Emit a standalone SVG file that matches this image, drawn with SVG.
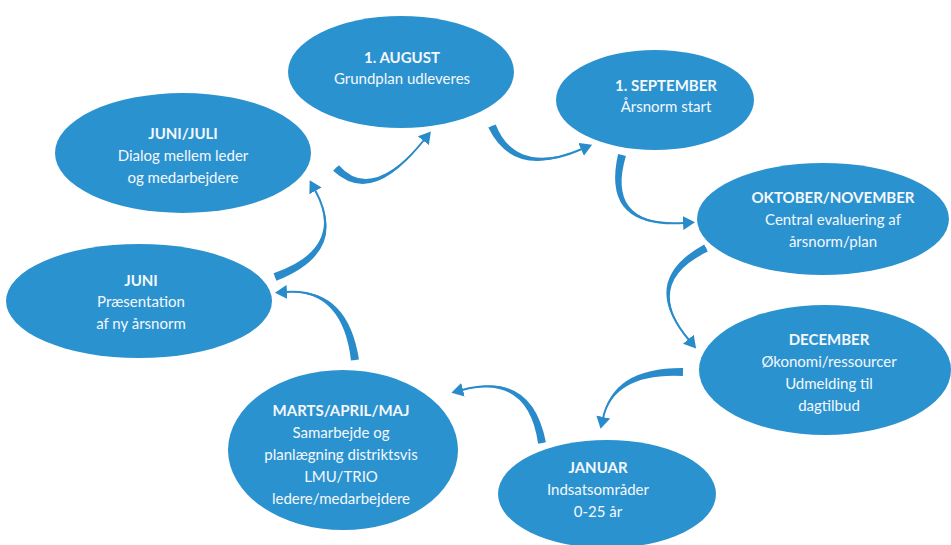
<svg xmlns="http://www.w3.org/2000/svg" width="951" height="545" viewBox="0 0 951 545">
<style>
.node ellipse{fill:#2b92d0}
.node text{font-family:Lato,"Open Sans","Liberation Sans",sans-serif;font-size:15px;fill:#f4f8fc;text-anchor:middle}
.node .t{font-weight:bold}
.arr .body{fill:#2a8bca;stroke:none}
.arr .line{fill:none;stroke:#2a8bca;stroke-width:2;marker-end:url(#ah)}
</style>
<defs>
<marker id="ah" markerUnits="userSpaceOnUse" viewBox="0 0 12 14" markerWidth="12" markerHeight="14" refX="1" refY="7" orient="auto">
<path d="M0,0 L12,7 L0,14 z" fill="#2a8bca"/>
</marker>
</defs>
<rect width="951" height="545" fill="#ffffff"/>
<g id="connectors" class="arr">
<path class="body" d="M333.1 170.8 Q372.9 207.9 424 140 Q371.1 202.1 338.9 165.2 Z"/>
<path class="line" d="M336 168 Q372 205 424 140"/>
<path class="body" d="M488.3 127.6 Q514.3 180.9 582 149 Q515.7 175.1 495.7 124.4 Z"/>
<path class="line" d="M492 126 Q515 178 582 149"/>
<path class="body" d="M618.1 154 Q600.8 230 684 223 Q605.2 226 625.9 156 Z"/>
<path class="line" d="M622 155 Q603 228 684 223"/>
<path class="body" d="M704.2 244.4 Q637.1 281.5 689 340 Q642.9 282.5 707.8 251.6 Z"/>
<path class="line" d="M706 248 Q640 282 689 340"/>
<path class="body" d="M683.1 368 Q612.5 367.4 603 418 Q615.5 372.6 682.9 376 Z"/>
<path class="line" d="M683 372 Q614 370 603 418"/>
<path class="body" d="M545.9 442.3 Q531.7 369.5 462 390 Q528.3 374.5 538.1 443.7 Z"/>
<path class="line" d="M542 443 Q530 372 462 390"/>
<path class="body" d="M359 359.4 Q347.1 285.9 286 292 Q342.9 290.1 351 360.6 Z"/>
<path class="line" d="M355 360 Q345 288 286 292"/>
<path class="body" d="M276.4 280.8 Q350.7 251.3 315 190 Q345.3 248.7 273.6 273.2 Z"/>
<path class="line" d="M275 277 Q348 250 315 190"/>
</g>
<g id="n-august" class="node">
<ellipse cx="401" cy="72" rx="113" ry="56"/>
<text class="t" x="402" y="63">1. AUGUST</text>
<text x="402" y="84">Grundplan udleveres</text>
</g>
<g id="n-september" class="node">
<ellipse cx="655" cy="100" rx="99" ry="50"/>
<text class="t" x="666" y="91">1. SEPTEMBER</text>
<text x="666" y="112">Årsnorm start</text>
</g>
<g id="n-oktober" class="node">
<ellipse cx="823" cy="219" rx="126" ry="56"/>
<text class="t" x="833" y="203">OKTOBER/NOVEMBER</text>
<text x="833" y="225">Central evaluering af</text>
<text x="833" y="247">årsnorm/plan</text>
</g>
<g id="n-december" class="node">
<ellipse cx="825" cy="370" rx="126" ry="65"/>
<text class="t" x="829" y="345">DECEMBER</text>
<text x="829" y="367">Økonomi/ressourcer</text>
<text x="829" y="389">Udmelding til</text>
<text x="829" y="411">dagtilbud</text>
</g>
<g id="n-januar" class="node">
<ellipse cx="607" cy="494" rx="109" ry="54"/>
<text class="t" x="598" y="473">JANUAR</text>
<text x="598" y="495">Indsatsområder</text>
<text x="598" y="517">0-25 år</text>
</g>
<g id="n-marts" class="node">
<ellipse cx="343" cy="450" rx="115" ry="80"/>
<text class="t" x="341" y="416">MARTS/APRIL/MAJ</text>
<text x="341" y="438">Samarbejde og</text>
<text x="341" y="460">planlægning distriktsvis</text>
<text x="341" y="482">LMU/TRIO</text>
<text x="341" y="504">ledere/medarbejdere</text>
</g>
<g id="n-juni" class="node">
<ellipse cx="139" cy="301" rx="133" ry="57"/>
<text class="t" x="141" y="286">JUNI</text>
<text x="141" y="307">Præsentation</text>
<text x="141" y="329">af ny årsnorm</text>
</g>
<g id="n-junijuli" class="node">
<ellipse cx="183" cy="153" rx="128" ry="60"/>
<text class="t" x="183" y="139">JUNI/JULI</text>
<text x="183" y="161">Dialog mellem leder</text>
<text x="183" y="183">og medarbejdere</text>
</g>
</svg>
